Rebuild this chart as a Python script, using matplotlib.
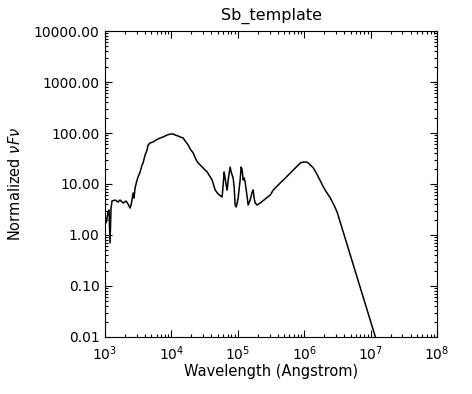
import matplotlib
matplotlib.use("Agg")
import matplotlib.pyplot as plt
from matplotlib.ticker import FixedLocator, FuncFormatter, NullFormatter, LogLocator

title = "Sb_template"
x_label = "Wavelength (Angstrom)"
y_label = r"Normalized $\nu F\nu$"

x_ticks = [1e3, 1e4, 1e5, 1e6, 1e7, 1e8]
x_tick_labels = [r"$10^{3}$", r"$10^{4}$", r"$10^{5}$", r"$10^{6}$", r"$10^{7}$", r"$10^{8}$"]
y_ticks = [0.01, 0.1, 1, 10, 100, 1000, 10000]

wavelength = [1000, 1035, 1072, 1110, 1149, 1190, 1232, 1275, 1416, 1571, 1683, 1868, 2073, 2223,
              2383, 2467, 2554, 2644, 2737, 2833, 3037, 3145, 3372, 3614, 3742, 4011, 4300, 4452,
              4773, 5297, 5878, 6757, 7499, 8620, 9566, 10616, 11381, 12630, 13540, 15025, 16108,
              17875, 19164, 21267, 23600, 25302, 29082, 34538, 41018, 45518, 50512, 58059, 60109,
              62231, 64427, 66701, 69056, 71493, 76629, 79334, 85030, 88032, 91139, 94356, 97686,
              101134, 108402, 112228, 116189, 120290, 124536, 128931, 138192, 143070, 153348,
              164364, 170166, 176172, 182390, 195492, 217000, 258600, 308100, 342000, 436000,
              519000, 617000, 734000, 873000, 969000, 1076000, 1153000, 1280000, 1372000, 1522000,
              1632000, 1811000, 1941000, 2155000, 2477000, 2749000, 2947000, 3159000, 11800000,
              14060000]
flux = [2.47, 1.72, 2.15, 2.82, 3.09, 0.70, 3.38, 4.64, 4.85, 4.44, 4.85, 4.24, 4.64, 4.05,
        3.38, 3.87, 4.85, 6.66, 5.31, 8.35, 12.0, 13.7, 17.2, 23.6, 25.8, 37.1, 46.4, 58.2,
        63.7, 66.6, 72.9, 79.8, 83.5, 91.4, 95.0, 95.5, 91.4, 87.3, 83.5, 79.8, 69.7,
        58.2, 48.6, 40.6, 29.6, 25.8, 21.5, 17.2, 12.0, 7.63, 6.37, 5.56, 9.56,
        17.2, 13.1, 9.56, 7.63, 12.0, 21.5, 17.2, 13.1, 8.74, 3.87, 3.54, 4.24,
        5.31, 12.0, 21.5, 18.8, 12.0, 13.1, 10.9, 5.56, 3.87, 4.85,
        6.97, 7.63, 5.31, 4.24, 3.87, 4.24, 5.08, 6.09, 7.63, 10.5,
        13.1, 16.4, 20.6, 25.8, 27.0, 27.0, 25.8, 22.5, 20.6, 16.4,
        13.7, 10.5, 8.74, 6.97, 5.31, 4.05, 3.38, 2.70, 0.01,
        0.0041]

fig = plt.figure(figsize=(4.72, 3.94), dpi=100)
ax = fig.add_axes([0.2225, 0.1447, 0.7034, 0.7766])
ax.plot(wavelength, flux, color="black", lw=1.1)
ax.set_xscale("log")
ax.set_yscale("log")
ax.set_xlim(1e3, 1e8)
ax.set_ylim(0.01, 1e4)

ax.xaxis.set_major_locator(FixedLocator(x_ticks))
ax.set_xticklabels(x_tick_labels)
ax.xaxis.set_minor_locator(LogLocator(base=10, subs=range(2, 10), numticks=20))
ax.yaxis.set_major_locator(FixedLocator(y_ticks))
ax.yaxis.set_major_formatter(FuncFormatter(lambda v, p: "%.2f" % v))
ax.yaxis.set_minor_locator(LogLocator(base=10, subs=range(2, 10), numticks=20))
ax.yaxis.set_minor_formatter(NullFormatter())
ax.xaxis.set_minor_formatter(NullFormatter())

ax.tick_params(which="both", direction="in", top=True, right=True, labelsize=10, width=0.8)
ax.tick_params(which="major", length=5)
ax.tick_params(axis="y", which="major", pad=4)
ax.tick_params(axis="x", which="major", pad=5)
ax.tick_params(which="minor", length=2.5)
for s in ax.spines.values():
    s.set_linewidth(0.8)

ax.set_title(title, fontsize=11.5, pad=8)
ax.set_xlabel(x_label, fontsize=10.5, labelpad=1)
ax.set_ylabel(y_label, fontsize=10.5, labelpad=8)

fig.savefig("out.png", dpi=100)
